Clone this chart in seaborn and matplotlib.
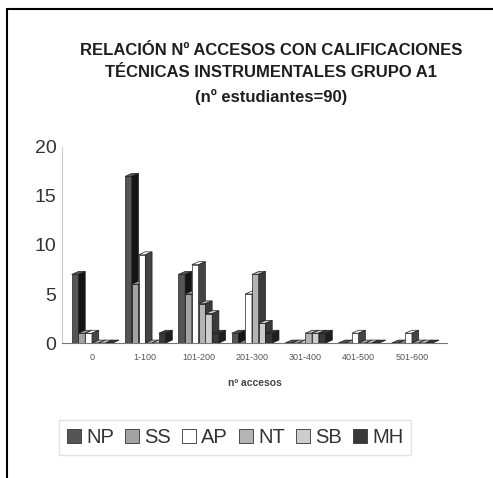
import matplotlib
matplotlib.use("Agg")
import matplotlib.pyplot as plt
import seaborn as sns
import pandas as pd
from matplotlib.patches import Polygon, Patch
from matplotlib.lines import Line2D

# ---- data ----
categories = ['0', '1-100', '101-200', '201-300', '301-400', '401-500', '501-600']
series = ['NP', 'SS', 'AP', 'NT', 'SB', 'MH']
NP = [7, 17, 7, 1, 0, 0, 0]
SS = [1, 6, 5, 0, 0, 0, 0]
AP = [1, 9, 8, 5, 0, 1, 1]
NT = [0, 0, 4, 7, 1, 0, 0]
SB = [0, 0, 3, 2, 1, 0, 0]
MH = [0, 1, 1, 1, 1, 0, 0]
values = {'NP': NP, 'SS': SS, 'AP': AP, 'NT': NT, 'SB': SB, 'MH': MH}

title_lines = ['RELACIÓN Nº ACCESOS CON CALIFICACIONES',
               'TÉCNICAS INSTRUMENTALES GRUPO A1',
               '(nº estudiantes=90)']
xlabel = 'nº accesos'

rows = []
for s in series:
    for c, v in zip(categories, values[s]):
        rows.append({'cat': c, 'serie': s, 'valor': v})
df = pd.DataFrame(rows)

front_colors = {'NP': '#555555', 'SS': '#a3a3a3', 'AP': '#ffffff',
                'NT': '#b4b4b4', 'SB': '#cdcdcd', 'MH': '#383838'}
side_colors = {'NP': '#141414', 'SS': '#3a3a3a', 'AP': '#444444',
               'NT': '#3a3a3a', 'SB': '#3a3a3a', 'MH': '#1e1e1e'}

sns.set_theme(style='white')
plt.rcParams['font.family'] = ['Liberation Sans', 'DejaVu Sans']

fig = plt.figure(figsize=(4.93, 4.78), dpi=100)
ax = fig.add_axes([0.126, 0.2824, 0.781, 0.4101])

sns.barplot(data=df, x='cat', y='valor', hue='serie', order=categories,
            hue_order=series, palette=front_colors, width=0.76,
            edgecolor='#222222', linewidth=0.5, legend=False, ax=ax)

# pseudo-3D faces derived from each bar's geometry
dy = 0.3
for i, (s, cont) in enumerate(zip(series, ax.containers)):
    for p in cont.patches:
        x0 = p.get_x(); w = p.get_width(); h = p.get_height()
        dx = 1.0 * w
        p.set_zorder(10 + 3 * i)
        top = Polygon([(x0, h), (x0 + w, h), (x0 + w + dx, h + dy), (x0 + dx, h + dy)],
                      closed=True, facecolor=front_colors[s], edgecolor='#222222',
                      linewidth=0.5, zorder=11 + 3 * i)
        side = Polygon([(x0 + w, 0), (x0 + w + dx, dy), (x0 + w + dx, h + dy), (x0 + w, h)],
                       closed=True, facecolor=side_colors[s], edgecolor='#222222',
                       linewidth=0.5, zorder=12 + 3 * i)
        ax.add_patch(top)
        ax.add_patch(side)

ax.set_xlim(-0.56, 6.66)
ax.set_ylim(0, 20)
ax.set_yticks([0, 5, 10, 15, 20])
ax.tick_params(axis='y', labelsize=14, colors='#333333', length=0, pad=4)
ax.tick_params(axis='x', labelsize=6.5, colors='#555555', length=0, pad=7)
ax.set_xlabel(xlabel, fontsize=7.5, fontweight='bold', color='#444444', labelpad=12)
ax.set_ylabel('')
for side_name in ['top', 'right']:
    ax.spines[side_name].set_visible(False)
ax.spines['left'].set_color('#cccccc')
ax.spines['left'].set_linewidth(0.8)
ax.spines['bottom'].set_color('#777777')
ax.spines['bottom'].set_linewidth(0.8)
ax.grid(False)

# titles
fig.text(0.55, 0.895, title_lines[0], ha='center', va='center',
         fontsize=12, fontweight='bold', color='#1e1e1e')
fig.text(0.55, 0.849, title_lines[1], ha='center', va='center',
         fontsize=12, fontweight='bold', color='#1e1e1e')
fig.text(0.55, 0.797, title_lines[2], ha='center', va='center',
         fontsize=12, fontweight='bold', color='#1e1e1e')

# legend
handles = [Patch(facecolor=front_colors[s], edgecolor='#333333', linewidth=0.6, label=s)
           for s in series]
leg = fig.legend(handles=handles, loc='center', bbox_to_anchor=(0.477, 0.085),
                 ncol=6, frameon=True, fancybox=False, edgecolor='#dddddd',
                 fontsize=14.5, handlelength=0.7, handleheight=0.7,
                 handletextpad=0.25, columnspacing=0.55, borderpad=0.4)
for t in leg.get_texts():
    t.set_color('#333333')

# outer frame (left and top edges visible)
fig.add_artist(Line2D([0.0142, 0.0142], [0.0, 0.981], color='black', linewidth=1.5,
                      transform=fig.transFigure))
fig.add_artist(Line2D([0.0142, 1.0], [0.981, 0.981], color='black', linewidth=1.5,
                      transform=fig.transFigure))

fig.savefig('out.png', dpi=100)
